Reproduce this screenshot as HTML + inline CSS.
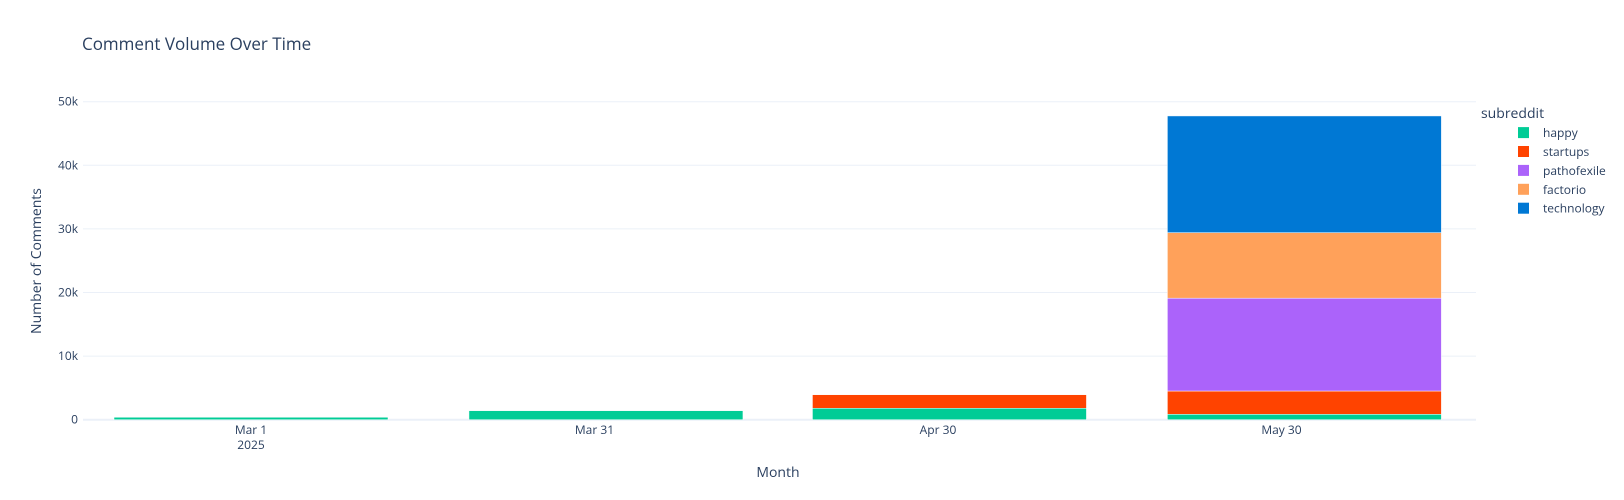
<!DOCTYPE html>
<html><head><meta charset="utf-8"><style>
body{margin:0;background:#fff}
svg{display:block;font-family:"Open Sans","Liberation Sans",sans-serif}
</style></head><body>
<svg id="chart" width="1624" height="500">
<rect width="1624" height="500" fill="#fff"/>
<text x="82" y="50" font-size="17" fill="#2a3f5f">Comment Volume Over Time</text>
<g id="grid"></g><g id="bars"></g><g id="axes"></g><g id="legend"></g>
<text x="778" y="477" font-size="14" fill="#2a3f5f" text-anchor="middle">Month</text>
<text transform="translate(41,261) rotate(-90)" font-size="14" fill="#2a3f5f" text-anchor="middle">Number of Comments</text>
</svg>
<script>
const barMonths = ["2025-03", "2025-04", "2025-05", "2025-06"];
const barDayOffsets = [0, 31, 61, 92];
const tickLabels = ["Mar 1", "Mar 31", "Apr 30", "May 30"];
const tickDayOffsets = [0, 30, 60, 90];
const seriesNames = ["happy", "startups", "pathofexile", "factorio", "technology"];
const seriesColors = ["#00cc96", "#ff4300", "#ab63fa", "#ffa15a", "#0078d4"];
const happy = [380, 1420, 1800, 850];
const startups = [0, 0, 2130, 3660];
const pathofexile = [0, 0, 0, 14600];
const factorio = [0, 0, 0, 10300];
const technology = [0, 0, 0, 18350];
const yTicks = [0, 10000, 20000, 30000, 40000, 50000];
const yTickLabels = ["0", "10k", "20k", "30k", "40k", "50k"];

const NS = "http://www.w3.org/2000/svg";
const plotL = 83, plotR = 1476, y0 = 419.7, yPerK = 6.36;
const x = d => 251 + d * 11.45;
const y = v => y0 - v / 1000 * yPerK;
const barW = 274;
function mk(tag, attrs, parent) {
  const e = document.createElementNS(NS, tag);
  for (const k in attrs) e.setAttribute(k, attrs[k]);
  parent.appendChild(e); return e;
}
const grid = document.getElementById('grid'), bars = document.getElementById('bars'),
      axes = document.getElementById('axes'), legend = document.getElementById('legend');
yTicks.forEach((t, i) => {
  const l = mk('line', {x1: plotL, x2: plotR, y1: y(t), y2: y(t), stroke: '#ebf0f8', 'stroke-width': t === 0 ? 2 : 1}, grid);
  
  
  const tx = mk('text', {x: 78, y: y(t) + 4, 'font-size': 12, fill: '#2a3f5f', 'text-anchor': 'end'}, axes);
  tx.textContent = yTickLabels[i];
  
  
});
tickLabels.forEach((c, i) => {
  const tx = mk('text', {x: x(tickDayOffsets[i]), y: 434, 'font-size': 12, fill: '#2a3f5f', 'text-anchor': 'middle'}, axes);
  tx.textContent = c;
  
  
});
const yr = mk('text', {x: x(0), y: 449, 'font-size': 12, fill: '#2a3f5f', 'text-anchor': 'middle'}, axes);
yr.textContent = "2025";



const series = [happy, startups, pathofexile, factorio, technology];
barMonths.forEach((c, i) => {
  let base = 0;
  series.forEach((s, k) => {
    const v = s[i];
    if (v > 0) {
      const r = mk('rect', {x: x(barDayOffsets[i]) - barW / 2, y: y(base + v), width: barW, height: y(base) - y(base + v), fill: seriesColors[k], stroke: '#fff', 'stroke-width': 0.5}, bars);
      
      
    }
    base += v;
  });
});
const lt = mk('text', {x: 1481, y: 118, 'font-size': 14, fill: '#2a3f5f'}, legend);
lt.textContent = "subreddit";


seriesNames.forEach((n, k) => {
  const cy = 132.6 + k * 18.9;
  const g = mk('g', {}, legend);
  
  
  mk('rect', {x: 1518, y: cy - 5.5, width: 11, height: 11, fill: seriesColors[k]}, g);
  const t = mk('text', {x: 1543, y: cy + 4.5, 'font-size': 12, fill: '#2a3f5f'}, g);
  t.textContent = n;
});
</script>
</body></html>
